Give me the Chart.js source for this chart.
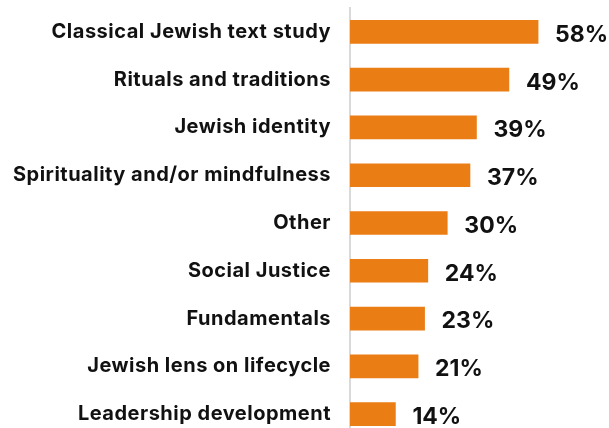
<!DOCTYPE html>
<html>
<head>
<meta charset="utf-8">
<style>
  html, body { margin: 0; padding: 0; background: #fff; overflow: hidden; }
  #chart { width: 609px; height: 438px; position: relative; }
</style>
<script src="https://cdn.jsdelivr.net/npm/chart.js@4/dist/chart.umd.min.js"></script>
</head>
<body>
<div id="chart"><canvas id="topics"></canvas></div>
<script>
const categories = [
  "Classical Jewish text study",
  "Rituals and traditions",
  "Jewish identity",
  "Spirituality and/or mindfulness",
  "Other",
  "Social Justice",
  "Fundamentals",
  "Jewish lens on lifecycle",
  "Leadership development",
];
const shares = [58, 49, 39, 37, 30, 24, 23, 21, 14];

// a touch of tracking on the category names
const tracking = {
  id: "tracking",
  beforeDraw(chart) {
    chart.ctx.letterSpacing = "0.5px";
  },
  afterDraw(chart) {
    chart.ctx.letterSpacing = "0px";
  },
};

// percent labels just past the end of each bar
const valueLabels = {
  id: "valueLabels",
  afterDatasetsDraw(chart) {
    const ctx = chart.ctx;
    const meta = chart.getDatasetMeta(0);
    ctx.save();
    ctx.letterSpacing = "0px";
    ctx.font = "bold 23px Inter";
    ctx.fillStyle = "#111";
    ctx.textAlign = "left";
    ctx.textBaseline = "middle";
    meta.data.forEach((bar, i) => {
      ctx.fillText(shares[i] + "%", bar.x + 17, bar.y + 3);
    });
    ctx.restore();
  },
};

new Chart(document.getElementById("topics"), {
  type: "bar",
  data: {
    labels: categories,
    datasets: [
      {
        label: "Share",
        data: shares,
        backgroundColor: "#EB7D15",
        barThickness: 23,
      },
    ],
  },
  options: {
    indexAxis: "y",
    responsive: true,
    maintainAspectRatio: false,
    animation: false,
    layout: { padding: { top: 8, right: 32, bottom: 0, left: 0 } },
    plugins: {
      legend: { display: false },
      tooltip: { enabled: false },
    },
    scales: {
      x: {
        display: false,
        min: 0,
        max: 70,
      },
      y: {
        grid: { display: false },
        border: { display: true, color: "#d9d9d9", width: 2 },
        ticks: {
          color: "#111",
          padding: 11,
          font: { family: "Inter", weight: "bold", size: 20 },
        },
        afterFit(scale) {
          scale.width = 350;
          scale.paddingTop = 0;
          scale.paddingBottom = 0;
        },
      },
    },
  },
  plugins: [tracking, valueLabels],
});
</script>
</body>
</html>
